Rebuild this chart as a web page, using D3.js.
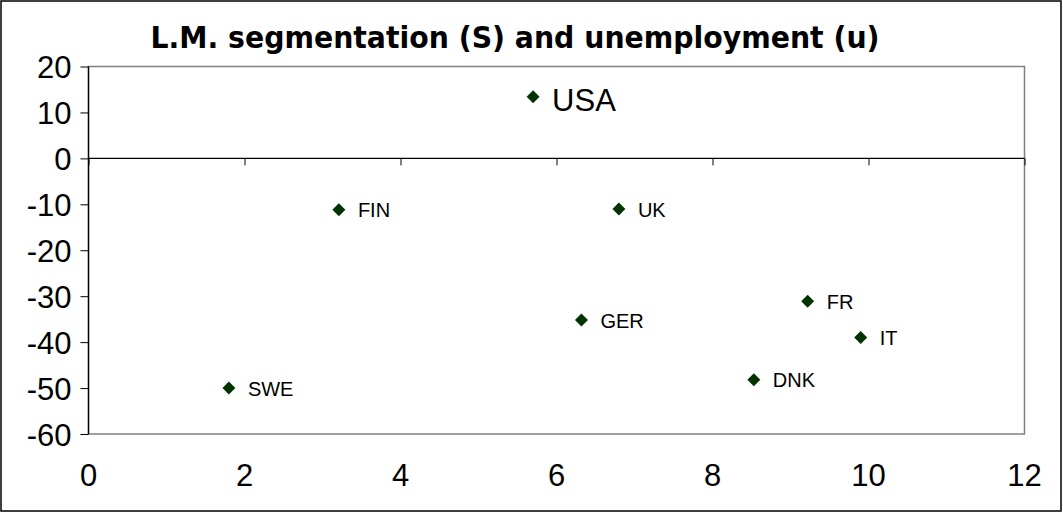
<!DOCTYPE html>
<html>
<head>
<meta charset="utf-8">
<script src="https://cdn.jsdelivr.net/npm/d3@7"></script>
<style>
  body { margin: 0; background: #fff; }
  svg { display: block; }
  text { font-family: "Liberation Sans", Arial, sans-serif; }
</style>
</head>
<body>
<div id="chart"></div>
<script>
// country labels and their values (u on x, S on y)
var countries = ["USA", "FIN", "UK", "SWE", "GER", "FR", "IT", "DNK"];
var unemployment = [5.7, 3.21, 6.8, 1.8, 6.32, 9.22, 9.9, 8.53];
var segmentation = [13.4, -11.2, -11.0, -50.0, -35.2, -31.1, -39.0, -48.2];
var xTicks = [0, 2, 4, 6, 8, 10, 12];
var yTicks = [20, 10, 0, -10, -20, -30, -40, -50, -60];

function drawChart() {
  var W = 1063, H = 513;
  var plot = {left: 88.5, right: 1024.5, top: 66.5, bottom: 434};

  var x = d3.scaleLinear().domain([0, 12]).range([plot.left, plot.right]);
  var y = d3.scaleLinear().domain([-60, 20]).range([plot.bottom, plot.top]);

  var svg = d3.select("#chart").append("svg")
      .attr("width", W)
      .attr("height", H);

  // outer frame
  svg.append("rect")
      .attr("x", 1).attr("y", 1)
      .attr("width", W - 3).attr("height", H - 3)
      .attr("fill", "#fff")
      .attr("stroke", "#000")
      .attr("stroke-width", 1.5);

  // plot area frame (grey)
  svg.append("rect")
      .attr("x", plot.left).attr("y", plot.top)
      .attr("width", plot.right - plot.left).attr("height", plot.bottom - plot.top)
      .attr("fill", "none")
      .attr("stroke", "#808080")
      .attr("stroke-width", 1.5);

  // title
  svg.append("text")
      .attr("x", 515)
      .attr("y", 48)
      .attr("text-anchor", "middle")
      .style("font-family", "Tahoma, 'DejaVu Sans', sans-serif")
      .style("font-weight", "bold")
      .style("font-size", "30px")
      .attr("textLength", 729)
      .attr("lengthAdjust", "spacingAndGlyphs")
      .text("L.M. segmentation (S) and unemployment (u)");

  // y axis (plain hyphen minus, as in the original)
  var yAxis = d3.axisLeft(y)
      .tickValues(yTicks)
      .tickSize(8)
      .tickPadding(9)
      .tickFormat(function(d) { return String(d); });

  var gy = svg.append("g")
      .attr("transform", "translate(" + plot.left + ",0)")
      .call(yAxis);
  gy.select(".domain").attr("stroke", "#000").attr("stroke-width", 1.3)
      .attr("d", "M0," + plot.top + "V" + plot.bottom);
  gy.selectAll("text")
      .style("font-family", "'Liberation Sans', Arial, sans-serif")
      .style("font-size", "31px")
      .attr("fill", "#000")
      .attr("dy", "0.36em");

  // x axis along S = 0
  var xAxis = d3.axisBottom(x)
      .tickValues(xTicks)
      .tickSize(7)
      .tickFormat("");

  var gx = svg.append("g")
      .attr("transform", "translate(0," + y(0) + ")")
      .call(xAxis);
  gx.select(".domain").attr("stroke", "#000").attr("stroke-width", 1.3)
      .attr("d", "M" + plot.left + ",0H" + plot.right);

  // x tick labels below the plot area
  svg.append("g").selectAll("text")
      .data(xTicks)
      .enter().append("text")
      .attr("x", function(d) { return x(d); })
      .attr("y", 486)
      .attr("text-anchor", "middle")
      .style("font-size", "31px")
      .text(function(d) { return d; });

  // points
  var pts = svg.append("g").selectAll("g")
      .data(countries)
      .enter().append("g")
      .attr("transform", function(d, i) {
          return "translate(" + x(unemployment[i]) + "," + y(segmentation[i]) + ")";
      });

  pts.append("path")
      .attr("d", d3.symbol(d3.symbolSquare, 84))
      .attr("transform", "rotate(45)")
      .attr("fill", "#003300");

  pts.append("text")
      .attr("x", 19)
      .attr("dy", function(d) { return d == "USA" ? "0.45em" : "0.38em"; })
      .style("font-size", function(d) { return d == "USA" ? "31px" : "20px"; })
      .text(function(d) { return d; });
}

drawChart();
</script>
</body>
</html>
